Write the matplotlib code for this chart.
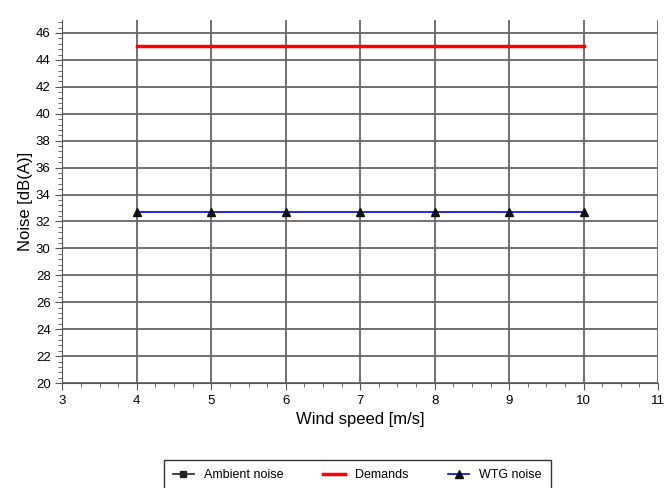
import matplotlib.pyplot as plt
from matplotlib.ticker import MultipleLocator

plt.rcParams['font.family'] = ['Liberation Sans', 'DejaVu Sans']

# Wind speeds and noise levels
wind_speed = [4, 5, 6, 7, 8, 9, 10]
demands = [45, 45, 45, 45, 45, 45, 45]
wtg_noise = [32.7, 32.7, 32.7, 32.7, 32.7, 32.7, 32.7]
ambient_noise = []

fig = plt.figure(figsize=(6.64, 4.88), dpi=100)
ax = fig.add_axes([0.094, 0.215, 0.897, 0.745])

ax.plot([], [], color='#222222', marker='s', markersize=5, lw=1.2, label='Ambient noise')
ax.plot(wind_speed, demands, color='#ff0000', lw=2.5, label='Demands')
ax.plot(wind_speed, wtg_noise, color='#0000ff', lw=1.2, marker='^',
        markersize=6, markerfacecolor='#111111', markeredgecolor='#111111',
        label='WTG noise')

ax.set_xlim(3, 11)
ax.set_ylim(20, 47)
ax.xaxis.set_major_locator(MultipleLocator(1))
ax.xaxis.set_minor_locator(MultipleLocator(0.25))
ax.yaxis.set_major_locator(MultipleLocator(2))
ax.yaxis.set_minor_locator(MultipleLocator(0.4))
ax.grid(True, which='major', color='#666666', lw=1.3)
ax.set_axisbelow(True)

for side in ['top', 'right']:
    ax.spines[side].set_visible(False)
for side in ['left', 'bottom']:
    ax.spines[side].set_color('#555555')

ax.tick_params(which='major', direction='out', length=5, labelsize=9.5, color='#555555')
ax.tick_params(which='minor', direction='out', length=3, color='#555555')

ax.set_xlabel('Wind speed [m/s]', fontsize=12, labelpad=4)
ax.set_ylabel('Noise [dB(A)]', fontsize=12, labelpad=2)

leg = fig.legend(loc='upper center', bbox_to_anchor=(0.538, 0.057), ncol=3,
                 fontsize=9, frameon=True, fancybox=False, edgecolor='black',
                 handlelength=1.7, columnspacing=3.2, borderpad=0.7,
                 borderaxespad=0)
leg.get_frame().set_linewidth(1)

fig.savefig('out.png', dpi=100)
